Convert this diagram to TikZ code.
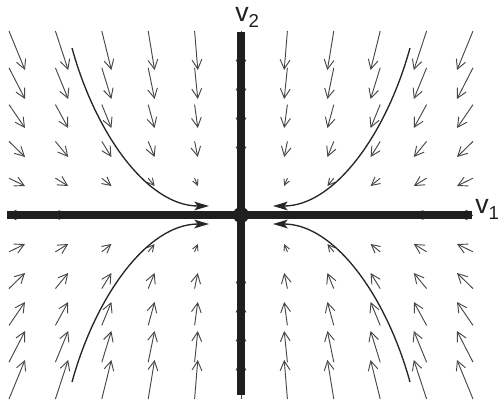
\documentclass[tikz,border=0pt]{standalone}
\usepackage{fontspec}
\setmainfont{Liberation Sans}
\usetikzlibrary{arrows.meta}
\begin{document}
\begin{tikzpicture}[x=0.75pt,y=-0.75pt,
  field/.style={draw=black!72, line width=0.7pt},
  axis/.style={line width=5.6pt, draw=black!88},
  traj/.style={line width=1pt, draw=black!85, -{Stealth[length=11pt,width=6.5pt,inset=2.5pt]}},
  lbl/.style={inner sep=0pt, font=\fontsize{20}{20}\selectfont, text=black!88}]
\useasboundingbox (0,0) rectangle (500,401);
\coordinate (O) at (241,215);
\foreach \c in {-5,...,5}{
  \foreach \r in {-5,...,5}{
    \pgfmathsetmacro{\dx}{-3.2*\c}
    \pgfmathsetmacro{\dy}{-7.8*\r}
    \pgfmathsetmacro{\len}{sqrt(\dx*\dx+\dy*\dy)}
    \pgfmathsetmacro{\hl}{min(7,0.5*\len)}
    \pgfmathsetmacro{\hx}{241+43.2*\c}
    \pgfmathsetmacro{\hy}{215+29*\r}
    \pgfmathsetmacro{\tx}{\hx-\dx}
    \pgfmathsetmacro{\ty}{\hy-\dy}
    \ifdim \len pt > 0.5pt
      \draw[field, -{Straight Barb[length=\hl pt, width=1.05*\hl pt]}] (\tx,\ty) -- (\hx,\hy);
    \fi
  }
}
\draw[axis] (7,215) -- (472,215);
\draw[axis] (241,32) -- (241,395);
\node[circle, fill=black!88, inner sep=0pt, minimum size=12pt] (origin) at (O) {};
\draw[traj] (72,48) .. controls (96,135) and (148,206) .. (209,206);
\draw[traj] (410,48) .. controls (386,135) and (334,206) .. (273,206);
\draw[traj] (72,382) .. controls (96,295) and (148,224) .. (209,224);
\draw[traj] (410,382) .. controls (386,295) and (334,224) .. (273,224);
\node[lbl, anchor=base west] (v2) at (235,21) {v\raisebox{-4.5pt}{\fontsize{14}{14}\selectfont 2}};
\node[lbl, anchor=base west] (v1) at (475,213) {v\raisebox{-4.5pt}{\fontsize{14}{14}\selectfont 1}};
\end{tikzpicture}
\end{document}
